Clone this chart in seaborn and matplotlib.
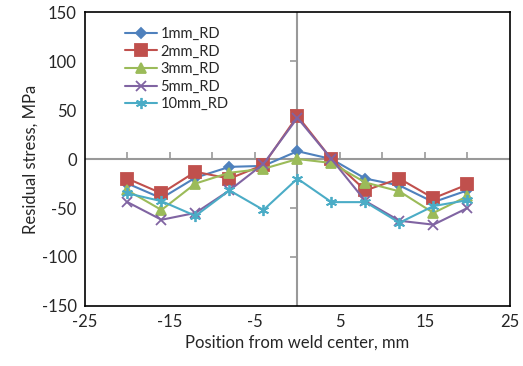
import matplotlib
matplotlib.use("Agg")
import matplotlib.pyplot as plt
import seaborn as sns

# -------------------------
# Data
# -------------------------
position = [-20, -16, -12, -8, -4, 0, 4, 8, 12, 16, 20]

rd_1mm = [-25, -40, -19, -8, -7, 8, 0, -20, -27, -44, -32]
rd_2mm = [-20, -35, -13, -20, -6, 44, 0, -32, -20, -40, -26]
rd_3mm = [-32, -52, -25, -14, -10, 0, -4, -24, -33, -55, -38]
rd_5mm = [-44, -62, -55, -32, -5, 42, 0, -43, -63, -67, -50]
rd_10mm = [-35, -43, -58, -32, -52, -20, -44, -44, -65, -48, -42]

series_labels = ["1mm_RD", "2mm_RD", "3mm_RD", "5mm_RD", "10mm_RD"]
series_values = [rd_1mm, rd_2mm, rd_3mm, rd_5mm, rd_10mm]

x_tick_values = [-25, -15, -5, 5, 15, 25]
y_tick_values = [-150, -100, -50, 0, 50, 100, 150]

# -------------------------
# Styling
# -------------------------
sns.set_style("white")
plt.rcParams["font.family"] = ["Lato", "DejaVu Sans"]
plt.rcParams["axes.unicode_minus"] = False

colors = ["#4F81BD", "#C0504D", "#9BBB59", "#8064A2", "#4BACC6"]
markers = ["D", "s", "^", "x", (6, 2, 0)]
msizes = [5.5, 8, 7, 7, 8]

fig = plt.figure(figsize=(5.23, 3.66), dpi=100)
ax = fig.add_axes([0.1625, 0.164, 0.8125, 0.803])

# Excel-style axes crossing at the origin
ax.axhline(0, color="#999999", linewidth=1.5, zorder=1)
ax.axvline(0, color="#999999", linewidth=1.5, zorder=1)
minor_x = [-20, -15, -10, -5, 5, 10, 15, 20]
ax.plot(minor_x, [0] * len(minor_x), linestyle="none", marker=2,
        markersize=5, markeredgewidth=1.2, color="#999999", zorder=1)
minor_y = [-100, -50, 50, 100]
ax.plot([0] * len(minor_y), minor_y, linestyle="none", marker=0,
        markersize=5, markeredgewidth=1.2, color="#999999", zorder=1)

for label, vals, c, m, ms in zip(series_labels, series_values, colors, markers, msizes):
    sns.lineplot(x=position, y=vals, ax=ax, color=c, marker=m, markersize=ms,
                 markeredgecolor=c, markeredgewidth=1.3, linewidth=1.5,
                 label=label, zorder=3)

ax.set_xlim(-25, 25)
ax.set_ylim(-150, 150)
ax.set_xticks(x_tick_values)
ax.set_yticks(y_tick_values)
ax.tick_params(length=0, labelsize=12, pad=6)

for s in ax.spines.values():
    s.set_color("black")
    s.set_linewidth(1.2)

ax.set_xlabel("Position from weld center, mm", fontsize=12, labelpad=3)
ax.set_ylabel("Residual stress, MPa", fontsize=12, labelpad=2)

leg = ax.legend(loc="upper left", bbox_to_anchor=(0.095, 0.95), frameon=False,
                fontsize=10.5, handlelength=2.2, labelspacing=0.25,
                handletextpad=0.2, borderaxespad=0, borderpad=0)

fig.savefig("out.png", dpi=100)
